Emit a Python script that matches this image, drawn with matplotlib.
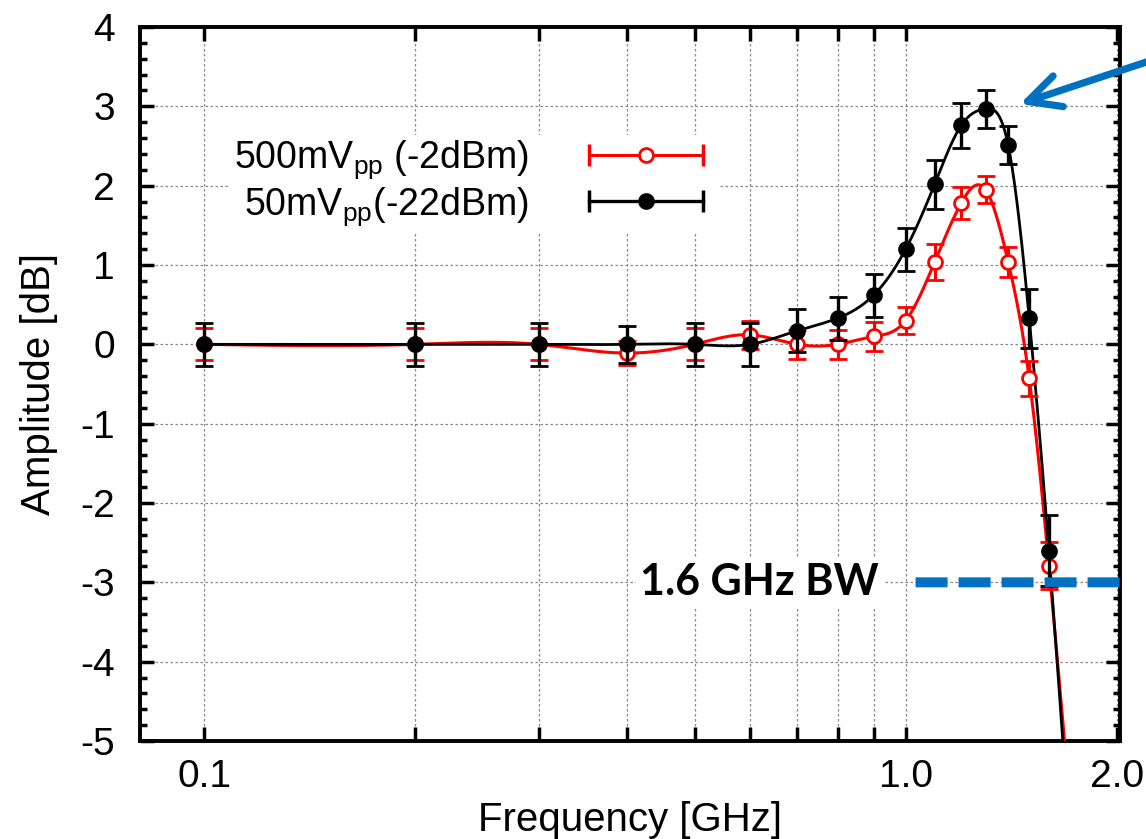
import numpy as np
import matplotlib
matplotlib.use("Agg")
import matplotlib.pyplot as plt
from matplotlib.lines import Line2D
from matplotlib.legend_handler import HandlerLine2D, HandlerTuple
from matplotlib.ticker import FixedLocator, NullFormatter, MultipleLocator

plt.rcParams['font.family'] = ['Liberation Sans', 'DejaVu Sans']
plt.rcParams['mathtext.fontset'] = 'custom'
plt.rcParams['mathtext.rm'] = 'Liberation Sans'
plt.rcParams['mathtext.it'] = 'Liberation Sans:italic'
plt.rcParams['axes.unicode_minus'] = False

# data (last point is below the axis, only shapes the curve)
freq = [0.1, 0.2, 0.3, 0.4, 0.5, 0.6, 0.7, 0.8, 0.9, 1.0, 1.1, 1.2, 1.3, 1.4, 1.5, 1.6, 1.7]
amp_500 = [0.0, 0.0, 0.0, -0.11, 0.0, 0.12, 0.0, 0.0, 0.1, 0.3, 1.04, 1.78, 1.95, 1.04, -0.43, -2.79, -5.4]
err_500 = [0.2, 0.2, 0.2, 0.15, 0.2, 0.18, 0.18, 0.18, 0.18, 0.17, 0.23, 0.2, 0.17, 0.19, 0.22, 0.3, 0.3]
amp_50 = [0.0, 0.0, 0.0, 0.0, 0.0, 0.0, 0.17, 0.33, 0.62, 1.2, 2.02, 2.76, 2.97, 2.51, 0.33, -2.6, -5.8]
err_50 = [0.27, 0.27, 0.27, 0.23, 0.27, 0.27, 0.27, 0.27, 0.27, 0.27, 0.31, 0.28, 0.24, 0.24, 0.37, 0.45, 0.45]

lab_500 = '500mV$_{\\mathrm{pp}}$ (-2dBm)'
lab_50 = '50mV$_{\\mathrm{pp}}$(-22dBm)'
bw_text = '1.6 GHz BW'
bw_level = -3.0


def cspline(x, y, xs):
    # natural cubic spline (like gnuplot smooth csplines)
    x = np.asarray(x, float)
    y = np.asarray(y, float)
    n = len(x)
    h = np.diff(x)
    A = np.zeros((n, n))
    b = np.zeros(n)
    A[0, 0] = 1
    A[-1, -1] = 1
    for i in range(1, n - 1):
        A[i, i - 1] = h[i - 1]
        A[i, i] = 2 * (h[i - 1] + h[i])
        A[i, i + 1] = h[i]
        b[i] = 3 * ((y[i + 1] - y[i]) / h[i] - (y[i] - y[i - 1]) / h[i - 1])
    c = np.linalg.solve(A, b)
    out = np.zeros_like(xs)
    for j, xv in enumerate(xs):
        i = min(max(np.searchsorted(x, xv) - 1, 0), n - 2)
        dx = xv - x[i]
        bb = (y[i + 1] - y[i]) / h[i] - h[i] * (2 * c[i] + c[i + 1]) / 3
        d = (c[i + 1] - c[i]) / (3 * h[i])
        out[j] = y[i] + bb * dx + c[i] * dx ** 2 + d * dx ** 3
    return out


fig = plt.figure(figsize=(11.46, 8.39), dpi=100)
ax = fig.add_axes([0.1222, 0.1168, 0.855, 0.851])

lf = np.log10(freq)
xs = np.linspace(lf[0], lf[-1], 800)
ax.plot(10 ** xs, cspline(lf, amp_500, xs), color='red', lw=2.2, zorder=3)
ax.plot(10 ** xs, cspline(lf, amp_50, xs), color='black', lw=2.0, zorder=4)

ax.errorbar(freq[:-1], amp_500[:-1], yerr=err_500[:-1], fmt='o', color='red', mfc='white',
            ms=10, mew=2, elinewidth=2.2, capsize=6.5, capthick=2.2, zorder=5)
ax.errorbar(freq[:-1], amp_50[:-1], yerr=err_50[:-1], fmt='o', color='black',
            ms=10, mew=2, elinewidth=2.4, capsize=6.5, capthick=2.4, zorder=6)

ax.set_xscale('log')
ax.set_xlim(0.081, 2.02)
ax.set_ylim(-5, 4)
ax.xaxis.set_major_locator(FixedLocator([0.1, 1.0, 2.0]))
ax.xaxis.set_minor_locator(FixedLocator([0.2, 0.3, 0.4, 0.5, 0.6, 0.7, 0.8, 0.9]))
ax.xaxis.set_minor_formatter(NullFormatter())
ax.set_xticklabels(['0.1', '1.0', '2.0'])
ax.yaxis.set_major_locator(MultipleLocator(1))
ax.yaxis.set_minor_locator(MultipleLocator(0.2))

ax.tick_params(which='both', direction='in', top=True, right=True, width=2.5, labelsize=28)
ax.tick_params(which='major', length=10)
ax.tick_params(which='minor', length=5)
ax.tick_params(axis='x', which='minor', length=10)
ax.tick_params(axis='x', pad=13)
ax.tick_params(axis='y', pad=18)
for s in ax.spines.values():
    s.set_linewidth(2.8)

ax.grid(True, which='major', color='#888888', ls=(0, (2, 2)), lw=0.9)
ax.grid(True, which='minor', axis='x', color='#888888', ls=(0, (2, 2)), lw=0.9)

ax.set_xlabel('Frequency [GHz]', fontsize=29, labelpad=4)
ax.set_ylabel('Amplitude [dB]', fontsize=29, labelpad=16)

# legend in gnuplot style: text first, then a horizontal error bar with the marker
cap_r = Line2D([], [], color='red', marker='|', ms=16, mew=2.5, lw=2.2)
pt_r = Line2D([], [], color='red', marker='o', mfc='white', ms=10, mew=2, ls='none')
cap_k = Line2D([], [], color='black', marker='|', ms=16, mew=2.5, lw=2.4)
pt_k = Line2D([], [], color='black', marker='o', ms=10, mew=2, ls='none')
leg = ax.legend([(cap_r, pt_r), (cap_k, pt_k)], [lab_500, lab_50],
                handler_map={cap_r: HandlerLine2D(numpoints=2), cap_k: HandlerLine2D(numpoints=2),
                             tuple: HandlerTuple(ndivide=1)},
                loc='upper left', bbox_to_anchor=(0.073, 0.875), markerfirst=False,
                fontsize=27, handlelength=3.64, handletextpad=1.3, labelspacing=0.1,
                frameon=True, fancybox=False, borderpad=0.1)
leg.get_frame().set_edgecolor('none')
leg.get_frame().set_facecolor('white')
leg.get_frame().set_alpha(1)
leg.set_zorder(7)

# bandwidth marker
ax.annotate('', xy=(1.0, bw_level), xycoords=('axes fraction', 'data'),
            xytext=(1.033, bw_level), textcoords='data',
            arrowprops=dict(arrowstyle='-', color='#0070C0', lw=7.2, ls=(0, (3.2, 1.1)),
                            shrinkA=0, shrinkB=0, capstyle='butt'), zorder=8)
ax.text(0.915, bw_level, bw_text, ha='right', va='center', fontsize=31,
        fontweight='bold', family=['Lato', 'DejaVu Sans'], zorder=9,
        bbox=dict(facecolor='white', edgecolor='none', pad=3))

ax.annotate('', xy=(1.455, 3.03), xycoords='data',
            xytext=(1.02, 0.935), textcoords='figure fraction',
            arrowprops=dict(arrowstyle='->', color='#0070C0', lw=5.2, mutation_scale=58,
                            shrinkA=0, shrinkB=0), annotation_clip=False, zorder=10)

fig.savefig('out.png', dpi=100)
